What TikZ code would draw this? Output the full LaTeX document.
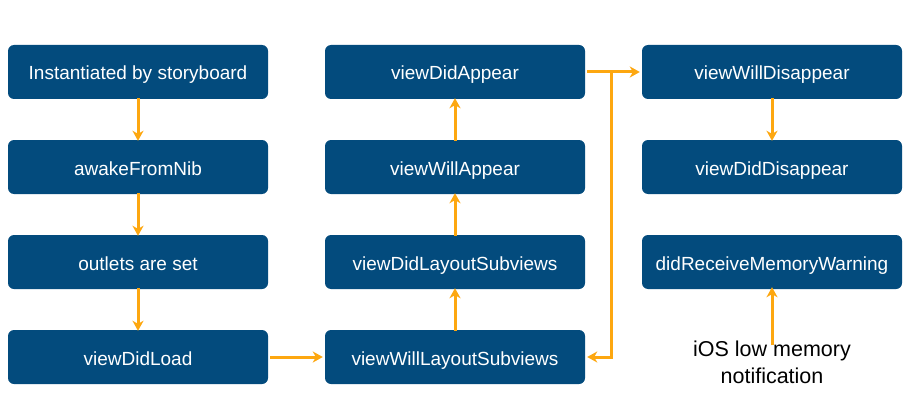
\documentclass[tikz,border=0pt]{standalone}
\usepackage{fontspec}
\setmainfont{Liberation Sans}
\usetikzlibrary{arrows.meta}
\definecolor{boxblue}{HTML}{034B7D}
\definecolor{arrorange}{HTML}{FDA710}
\begin{document}
\begin{tikzpicture}[x=1pt,y=-1pt,
  stepbox/.style={draw=none,fill=boxblue,rounded corners=6pt,minimum width=260pt,minimum height=54pt,
    text=white,font=\fontsize{19}{22}\selectfont,inner sep=0pt,text height=20pt,text depth=4pt},
  conn/.style={draw=arrorange,line width=3pt,-{Stealth[length=10pt,width=11pt,inset=3pt]}}]
\useasboundingbox (0,0) rectangle (909,409);
\node[stepbox] (inst) at (138,72) {Instantiated by storyboard};
\node[stepbox] (awake) at (138,167) {awakeFromNib};
\node[stepbox] (outlets) at (138,262) {outlets are set};
\node[stepbox] (load) at (138,357) {viewDidLoad};
\node[stepbox] (wlayout) at (455,357) {viewWillLayoutSubviews};
\node[stepbox] (dlayout) at (455,262) {viewDidLayoutSubviews};
\node[stepbox] (wappear) at (455,167) {viewWillAppear};
\node[stepbox] (dappear) at (455,72) {viewDidAppear};
\node[stepbox] (wdis) at (772,72) {viewWillDisappear};
\node[stepbox] (ddis) at (772,167) {viewDidDisappear};
\node[stepbox] (mem) at (772,262) {didReceiveMemoryWarning};
\node[align=center,font=\fontsize{21.5}{27}\selectfont,inner sep=0pt] (ios) at (772,362) {iOS low memory\\notification};
\coordinate (branch) at (611,72);
\draw[conn] ([yshift=1pt]inst.south) -- ([yshift=-1pt]awake.north);
\draw[conn] ([yshift=1pt]awake.south) -- ([yshift=-1pt]outlets.north);
\draw[conn] ([yshift=1pt]outlets.south) -- ([yshift=-1pt]load.north);
\draw[conn] ([xshift=2pt]load.east) -- ([xshift=-2pt]wlayout.west);
\draw[conn] ([yshift=-1pt]wlayout.north) -- ([yshift=1pt]dlayout.south);
\draw[conn] ([yshift=-1pt]dlayout.north) -- ([yshift=1pt]wappear.south);
\draw[conn] ([yshift=-1pt]wappear.north) -- ([yshift=1pt]dappear.south);
\draw[conn] ([xshift=2pt]dappear.east) -- ([xshift=-2pt]wdis.west);
\draw[conn] (branch) |- ([xshift=2pt]wlayout.east);
\draw[conn] ([yshift=1pt]wdis.south) -- ([yshift=-1pt]ddis.north);
\draw[conn] ([yshift=-5pt]ios.north) -- ([yshift=2pt]mem.south);
\end{tikzpicture}
\end{document}
